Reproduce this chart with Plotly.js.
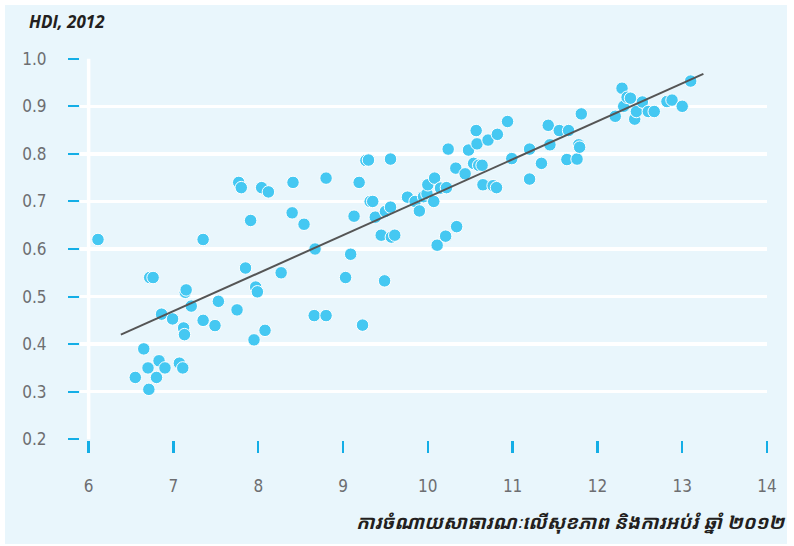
<!DOCTYPE html>
<html>
<head>
<meta charset="utf-8">
<script src="https://cdn.plot.ly/plotly-3.0.1.min.js"></script>
<style>
  html, body { margin: 0; padding: 0; background: #ffffff; }
  #chart { position: absolute; left: 5px; top: 5px; width: 782px; height: 539px; }
</style>
</head>
<body>
<div id="chart"></div>
<script>
// Public spending on health and education (x) vs HDI (y), 2012
const spending = [
  6.11, 6.55, 6.65, 6.70, 6.71, 6.72, 6.76, 6.80, 6.83, 6.86,
  6.90, 6.99, 7.07, 7.11, 7.12, 7.13, 7.14, 7.15, 7.21, 7.35,
  7.35, 7.49, 7.53, 7.75, 7.77, 7.80, 7.85, 7.91, 7.95, 7.97,
  7.99, 8.04, 8.08, 8.12, 8.27, 8.40, 8.41, 8.54, 8.66, 8.67,
  8.80, 8.80, 9.03, 9.09, 9.13, 9.19, 9.23, 9.27, 9.30, 9.32,
  9.35, 9.38, 9.45, 9.49, 9.50, 9.56, 9.56, 9.57, 9.61, 9.76,
  9.85, 9.90, 9.95, 9.99, 10.00, 10.07, 10.08, 10.11, 10.15, 10.21,
  10.22, 10.24, 10.33, 10.34, 10.44, 10.48, 10.54, 10.57, 10.58, 10.60,
  10.64, 10.65, 10.71, 10.77, 10.81, 10.82, 10.94, 10.99, 11.20, 11.20,
  11.34, 11.42, 11.44, 11.55, 11.64, 11.66, 11.76, 11.78, 11.79, 11.81,
  12.21, 12.29, 12.31, 12.35, 12.39, 12.44, 12.46, 12.53, 12.60, 12.67,
  12.82, 12.88, 13.00, 13.10
];
const hdi = [
  0.620, 0.330, 0.390, 0.350, 0.305, 0.540, 0.540, 0.330, 0.365, 0.463,
  0.350, 0.453, 0.360, 0.350, 0.434, 0.420, 0.509, 0.514, 0.480, 0.620,
  0.450, 0.439, 0.490, 0.472, 0.740, 0.729, 0.560, 0.660, 0.409, 0.520,
  0.510, 0.729, 0.429, 0.720, 0.550, 0.676, 0.740, 0.652, 0.460, 0.600,
  0.460, 0.749, 0.540, 0.589, 0.669, 0.740, 0.440, 0.786, 0.787, 0.700,
  0.700, 0.667, 0.629, 0.533, 0.679, 0.688, 0.789, 0.625, 0.629, 0.709,
  0.700, 0.680, 0.710, 0.716, 0.735, 0.700, 0.749, 0.608, 0.728, 0.627,
  0.729, 0.810, 0.770, 0.647, 0.758, 0.808, 0.780, 0.849, 0.821, 0.776,
  0.776, 0.735, 0.829, 0.733, 0.729, 0.841, 0.868, 0.790, 0.810, 0.747,
  0.780, 0.860, 0.819, 0.849, 0.788, 0.849, 0.789, 0.819, 0.814, 0.884,
  0.879, 0.938, 0.900, 0.919, 0.917, 0.873, 0.889, 0.909, 0.889, 0.889,
  0.910, 0.913, 0.900, 0.953
];
// Trend line end points
const trendX = [6.38, 13.25];
const trendY = [0.42, 0.968];

const xTickVals = [6, 7, 8, 9, 10, 11, 12, 13, 14];
const yTickVals = [0.2, 0.3, 0.4, 0.5, 0.6, 0.7, 0.8, 0.9, 1.0];

const titleText = 'HDI, 2012';
const xTitleText = 'ការចំណាយសាធារណៈលើសុខភាព និងការអប់រំ ឆ្នាំ ២០១២';

const tickFont = { family: "'Liberation Sans Narrow', 'DejaVu Sans Condensed', 'Roboto Condensed', sans-serif", size: 17, color: '#6d6e71' };
const blue = '#14aee6';

const traces = [
  {
    type: 'scatter', mode: 'markers',
    x: spending, y: hdi,
    marker: { size: 12.5, color: '#45c8f2', line: { color: '#ffffff', width: 1 } },
    hoverinfo: 'x+y', showlegend: false
  },
  {
    type: 'scatter', mode: 'lines',
    x: trendX, y: trendY,
    line: { color: '#555555', width: 2 },
    hoverinfo: 'skip', showlegend: false
  }
];

const layout = {
  width: 782, height: 539,
  paper_bgcolor: '#e9f6fc',
  plot_bgcolor: '#e9f6fc',
  margin: { l: 75, r: 20.4, t: 53.3, b: 104.3 },
  showlegend: false,
  title: {
    text: '<b><i>' + titleText + '</i></b>',
    x: 24 / 782, xref: 'container', xanchor: 'left',
    y: 1 - 17 / 539, yref: 'container', yanchor: 'middle',
    font: { family: "'Open Sans', 'Liberation Sans', sans-serif", size: 17, color: '#231f20' }
  },
  xaxis: {
    range: [5.898, 14.0],
    tickvals: xTickVals,
    ticktext: xTickVals.map(String),
    ticks: 'outside', ticklen: 12, tickwidth: 2.5, tickcolor: blue,
    ticklabelstandoff: 19,
    showgrid: false, zeroline: false, showline: false,
    tickfont: tickFont,
    fixedrange: true
  },
  yaxis: {
    range: [0.1985, 1.0015],
    tickvals: yTickVals,
    ticktext: yTickVals.map(v => v.toFixed(1)),
    ticks: 'outside', ticklen: 11, tickwidth: 2, tickcolor: blue,
    ticklabelstandoff: 18,
    showgrid: true, gridcolor: '#ffffff', gridwidth: 3.5,
    zeroline: false, showline: false,
    tickfont: tickFont,
    fixedrange: true
  },
  shapes: [
    { type: 'line', xref: 'x', yref: 'y', x0: 6, x1: 6, y0: 0.2, y1: 1.0,
      line: { color: '#ffffff', width: 3.5 }, layer: 'below' }
  ],
  annotations: [
    {
      text: '<b><i>' + xTitleText + '</i></b>',
      xref: 'paper', yref: 'paper',
      x: (782 - 75) / 686.6, y: (434.7 - 517) / 381.4,
      xanchor: 'right', yanchor: 'middle', showarrow: false,
      font: { family: "'Noto Sans Khmer', 'Khmer OS', 'Noto Sans', sans-serif", size: 19, color: '#231f20' }
    }
  ]
};

Plotly.newPlot('chart', traces, layout, { displayModeBar: false, staticPlot: true });
</script>
</body>
</html>
